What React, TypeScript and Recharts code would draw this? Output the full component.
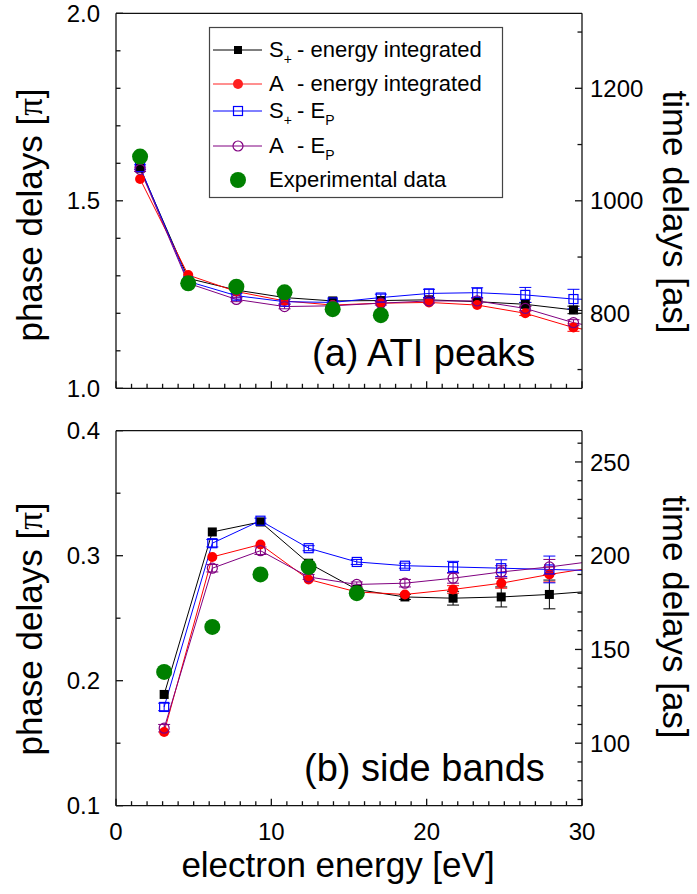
import React from 'react'
import { ComposedChart, Line, Scatter, XAxis, YAxis, ErrorBar } from 'recharts'

const FONT = '"Liberation Sans", Arial, Helvetica, sans-serif'
const INK = '#111'

// energy axis (shared)
const energyTicks = [0, 10, 20, 30]
const energyMinorTicks = [1, 2, 3, 4, 5, 6, 7, 8, 9, 11, 12, 13, 14, 15, 16, 17, 18, 19, 21, 22, 23, 24, 25, 26, 27, 28, 29]

// (a) ATI peaks
const atiEnergy = [1.55, 4.65, 7.75, 10.85, 13.95, 17.05, 20.15, 23.25, 26.35, 29.45, 32.55]
const atiSPlusInt = [1.587, 1.293, 1.262, 1.242, 1.233, 1.234, 1.236, 1.231, 1.224, 1.209, 1.2]
const atiSPlusIntErr = [0, 0, 0, 0, 0, 0, 0, 0, 0.005, 0.01, 0]
const atiAInt = [1.558, 1.302, 1.258, 1.233, 1.222, 1.227, 1.229, 1.222, 1.2, 1.162, 1.14]
const atiAIntErr = [0, 0, 0, 0, 0, 0, 0, 0, 0.006, 0.01, 0]
const atiSPlusEp = [1.59, 1.285, 1.247, 1.231, 1.229, 1.242, 1.253, 1.255, 1.249, 1.238, 1.235]
const atiSPlusEpErr = [0.006, 0.004, 0.006, 0.006, 0.004, 0.009, 0.011, 0.013, 0.02, 0.026, 0]
const atiAEp = [1.584, 1.28, 1.237, 1.218, 1.22, 1.227, 1.233, 1.233, 1.213, 1.175, 1.15]
const atiAEpErr = [0.006, 0.004, 0.006, 0.006, 0.004, 0.005, 0.006, 0.006, 0.006, 0.008, 0]
const atiExpEnergy = [1.55, 4.65, 7.75, 10.85, 13.95, 17.05]
const atiExp = [1.618, 1.28, 1.271, 1.256, 1.211, 1.195]
const atiPhaseTicks = [1.0, 1.5, 2.0]
const atiPhaseMinor = [1.1, 1.2, 1.3, 1.4, 1.6, 1.7, 1.8, 1.9]
const atiTimeTicks = [800, 1000, 1200]
const atiTimeMinor = [700, 900, 1100, 1300]

// (b) side bands
const sbEnergy = [3.1, 6.2, 9.3, 12.4, 15.5, 18.6, 21.7, 24.8, 27.9, 31.0]
const sbSPlusInt = [0.189, 0.319, 0.327, 0.294, 0.273, 0.267, 0.266, 0.267, 0.269, 0.272]
const sbSPlusIntErr = [0, 0, 0, 0, 0, 0.002, 0.0055, 0.008, 0.0115, 0]
const sbAInt = [0.159, 0.299, 0.309, 0.281, 0.271, 0.269, 0.273, 0.278, 0.285, 0.291]
const sbAIntErr = [0, 0, 0, 0, 0, 0, 0.003, 0.004, 0.006, 0]
const sbSPlusEp = [0.179, 0.31, 0.328, 0.306, 0.295, 0.292, 0.291, 0.29, 0.289, 0.288]
const sbSPlusEpErr = [0.003, 0.003, 0.002, 0.002, 0.002, 0.002, 0.0045, 0.0067, 0.0107, 0]
const sbAEp = [0.162, 0.29, 0.304, 0.283, 0.277, 0.278, 0.282, 0.287, 0.291, 0.296]
const sbAEpErr = [0.003, 0.003, 0.003, 0.002, 0.002, 0.003, 0.004, 0.005, 0.006, 0]
const sbExpEnergy = [3.1, 6.2, 9.3, 12.4, 15.5]
const sbExp = [0.207, 0.243, 0.285, 0.291, 0.27]
const sbPhaseTicks = [0.1, 0.2, 0.3, 0.4]
const sbPhaseMinor = [0.15, 0.25, 0.35]
const sbTimeTicks = [100, 150, 200, 250]
const sbTimeMinor = [70, 80, 90, 110, 120, 130, 140, 160, 170, 180, 190, 210, 220, 230, 240, 260]

const toRows = (xs: number[], ys: number[], errs?: number[]) =>
  ys.map((v, i) => ({ e: xs[i], v, err: errs ? errs[i] : 0 }))

// 1 pi of phase = 666.67 as of time delay
const AS_PER_PI = 2000 / 3

const axisLine = { stroke: INK, strokeWidth: 1.3 }
const MAJOR = 7
const MINOR = 4.5

const isMajor = (v: number, majors: number[]) => majors.some((m) => Math.abs(m - v) < 1e-6)

// draws an inward tick mark at the axis line, plus its label for major ticks
function tickRenderer(side: 'left' | 'right' | 'top' | 'bottom', majors: number[], showLabel: boolean, fmt: (v: number) => string) {
  return (p: any) => {
    const v = p.payload.value
    const major = isMajor(v, majors)
    const len = major ? MAJOR : MINOR
    const x = p.x
    const y = p.y
    let line
    let label = null
    if (side === 'left') {
      line = <line x1={x} x2={x + len} y1={y} y2={y} stroke={INK} strokeWidth={1.3} />
      if (major && showLabel)
        label = <text x={x - 16} y={y} dy="0.36em" textAnchor="end" fontSize={24} fill="#000" fontFamily={FONT}>{fmt(v)}</text>
    } else if (side === 'right') {
      line = <line x1={x} x2={x - len} y1={y} y2={y} stroke={INK} strokeWidth={1.3} />
      if (major && showLabel)
        label = <text x={x + 8} y={y} dy="0.36em" textAnchor="start" fontSize={24} fill="#000" fontFamily={FONT}>{fmt(v)}</text>
    } else if (side === 'top') {
      line = <line x1={x} x2={x} y1={y} y2={y + len} stroke={INK} strokeWidth={1.3} />
    } else {
      line = <line x1={x} x2={x} y1={y} y2={y - len} stroke={INK} strokeWidth={1.3} />
      if (major && showLabel)
        label = <text x={x} y={y + 34} textAnchor="middle" fontSize={24} fill="#000" fontFamily={FONT}>{fmt(v)}</text>
    }
    return (
      <g key={`t-${side}-${p.index}`}>
        {line}
        {label}
      </g>
    )
  }
}

function marker(kind: string, color: string, size: number) {
  return (p: any) => {
    const { cx, cy, index, payload } = p
    const key = `m-${kind}-${index}`
    if (cx == null || cy == null || (payload && payload.e > 30)) return <g key={key} />
    const h = size / 2
    if (kind === 'sq') return <rect key={key} x={cx - h} y={cy - h} width={size} height={size} fill={color} />
    if (kind === 'osq')
      return <rect key={key} x={cx - h} y={cy - h} width={size} height={size} fill="#fff" fillOpacity={0} stroke={color} strokeWidth={1.2} />
    if (kind === 'ci') return <circle key={key} cx={cx} cy={cy} r={h} fill={color} />
    return <circle key={key} cx={cx} cy={cy} r={h} fill="#fff" fillOpacity={0} stroke={color} strokeWidth={1.2} />
  }
}

type Series = { rows: any[]; color: string; kind: string; size: number }

function Panel(props: {
  top: number
  height: number
  marginTop: number
  marginBottom: number
  phaseDomain: number[]
  phaseTicks: number[]
  phaseMinor: number[]
  timeTicks: number[]
  timeMinor: number[]
  series: Series[]
  exp: any[]
  showEnergy: boolean
}) {
  const p = props
  const timeDomain = [p.phaseDomain[0] * AS_PER_PI, p.phaseDomain[1] * AS_PER_PI]
  const allEnergy = [...energyTicks, ...energyMinorTicks]
  const shared = { allowDataOverflow: true, interval: 0 as const, tickSize: 0, tickMargin: 0, axisLine, tickLine: false }
  return (
    <div style={{ position: 'absolute', left: 0, top: p.top }}>
      <ComposedChart
        width={697}
        height={p.height}
        margin={{ top: p.marginTop - 1, right: 114, bottom: p.marginBottom - 1, left: 115 }}
      >
        <XAxis
          xAxisId="x"
          type="number"
          dataKey="e"
          domain={[0, 30]}
          ticks={allEnergy}
          height={1}
          tick={tickRenderer('bottom', energyTicks, p.showEnergy, (v) => String(v))}
          {...shared}
        />
        <XAxis
          xAxisId="xt"
          orientation="top"
          type="number"
          domain={[0, 30]}
          ticks={allEnergy}
          height={1}
          tick={tickRenderer('top', energyTicks, false, (v) => String(v))}
          {...shared}
        />
        <YAxis
          yAxisId="y"
          type="number"
          domain={p.phaseDomain}
          ticks={[...p.phaseTicks, ...p.phaseMinor]}
          width={1}
          tick={tickRenderer('left', p.phaseTicks, true, (v) => v.toFixed(1))}
          {...shared}
        />
        <YAxis
          yAxisId="r"
          orientation="right"
          type="number"
          domain={timeDomain}
          ticks={[...p.timeTicks, ...p.timeMinor]}
          width={1}
          tick={tickRenderer('right', p.timeTicks, true, (v) => String(v))}
          {...shared}
        />

        {p.series.map((s, i) => (
          <Line
            key={i}
            xAxisId="x"
            yAxisId="y"
            type="linear"
            data={s.rows}
            dataKey="v"
            stroke={s.color}
            strokeWidth={1}
            dot={marker(s.kind, s.color, s.size)}
            activeDot={false}
            isAnimationActive={false}
          >
            <ErrorBar dataKey="err" width={6} stroke={s.color} strokeWidth={1} direction="y" isAnimationActive={false} />
          </Line>
        ))}
        <Scatter
          xAxisId="x"
          yAxisId="y"
          data={p.exp}
          dataKey="v"
          isAnimationActive={false}
          shape={(q: any) => <circle cx={q.cx} cy={q.cy} r={8} fill="#008000" />}
        />
      </ComposedChart>
    </div>
  )
}

const legendRows = [
  { color: '#000', kind: 'sq', size: 8, y: 50, head: 'S', sub: '+', rest: '- energy integrated', restSub: '' },
  { color: '#ff2020', kind: 'ci', size: 10, y: 84, head: 'A', sub: '', rest: '- energy integrated', restSub: '' },
  { color: '#0000ff', kind: 'osq', size: 9, y: 111, head: 'S', sub: '+', rest: '- E', restSub: 'P' },
  { color: '#800080', kind: 'oci', size: 10, y: 146, head: 'A', sub: '', rest: '- E', restSub: 'P' },
]

function Overlay() {
  return (
    <svg width={697} height={894} style={{ position: 'absolute', left: 0, top: 0, pointerEvents: 'none' }} fontFamily={FONT}>
      {/* legend */}
      <rect x={209.5} y={27.5} width={293} height={170} fill="#fff" stroke="#444" strokeWidth={1.2} />
      {legendRows.map((r, i) => (
        <g key={i}>
          <line x1={213} x2={262} y1={r.y} y2={r.y} stroke={r.color} strokeWidth={1} />
          {marker(r.kind, r.color, r.size)({ cx: 238, cy: r.y, index: i, payload: { e: 0 } })}
          <text x={269} y={r.y + 7} fontSize={22} fill="#000">
            {r.head}
            {r.sub ? (
              <tspan dy={7} fontSize={14}>
                {r.sub}
              </tspan>
            ) : null}
          </text>
          <text x={297} y={r.y + 7} fontSize={22} fill="#000">
            {r.rest}
            {r.restSub ? (
              <tspan dy={7} fontSize={14}>
                {r.restSub}
              </tspan>
            ) : null}
          </text>
        </g>
      ))}
      <circle cx={238} cy={180} r={8} fill="#008000" />
      <text x={269} y={187} fontSize={22} fill="#000">
        Experimental data
      </text>

      {/* panel labels */}
      <text x={312} y={366} fontSize={38} fill="#000">
        (a) ATI peaks
      </text>
      <text x={304} y={781} fontSize={38} fill="#000">
        (b) side bands
      </text>

      {/* axis titles */}
      <text x={42} y={215} fontSize={35} fill="#000" textAnchor="middle" transform="rotate(-90 42 215)">
        phase delays [<tspan fontFamily='"Liberation Serif", serif'>π</tspan>]
      </text>
      <text x={42} y={629} fontSize={35} fill="#000" textAnchor="middle" transform="rotate(-90 42 629)">
        phase delays [<tspan fontFamily='"Liberation Serif", serif'>π</tspan>]
      </text>
      <text x={663} y={212} fontSize={35} fill="#000" textAnchor="middle" transform="rotate(90 663 212)">
        time delays [as]
      </text>
      <text x={663} y={617} fontSize={35} fill="#000" textAnchor="middle" transform="rotate(90 663 617)">
        time delays [as]
      </text>
      <text x={338} y={877} fontSize={35} fill="#000" textAnchor="middle">
        electron energy [eV]
      </text>
    </svg>
  )
}

export default function App() {
  const atiSeries: Series[] = [
    { rows: toRows(atiEnergy, atiSPlusInt, atiSPlusIntErr), color: '#000', kind: 'sq', size: 9 },
    { rows: toRows(atiEnergy, atiAInt, atiAIntErr), color: '#ff0000', kind: 'ci', size: 10 },
    { rows: toRows(atiEnergy, atiSPlusEp, atiSPlusEpErr), color: '#0000ff', kind: 'osq', size: 9 },
    { rows: toRows(atiEnergy, atiAEp, atiAEpErr), color: '#800080', kind: 'oci', size: 10 },
  ]
  const sbSeries: Series[] = [
    { rows: toRows(sbEnergy, sbSPlusInt, sbSPlusIntErr), color: '#000', kind: 'sq', size: 9 },
    { rows: toRows(sbEnergy, sbAInt, sbAIntErr), color: '#ff0000', kind: 'ci', size: 10 },
    { rows: toRows(sbEnergy, sbSPlusEp, sbSPlusEpErr), color: '#0000ff', kind: 'osq', size: 9 },
    { rows: toRows(sbEnergy, sbAEp, sbAEpErr), color: '#800080', kind: 'oci', size: 10 },
  ]
  return (
    <div style={{ position: 'absolute', left: 0, top: 0, width: 697, height: 894, background: '#fff', fontFamily: FONT }}>
      <Panel
        top={0}
        height={420}
        marginTop={13.3}
        marginBottom={31.7}
        phaseDomain={[1, 2]}
        phaseTicks={atiPhaseTicks}
        phaseMinor={atiPhaseMinor}
        timeTicks={atiTimeTicks}
        timeMinor={atiTimeMinor}
        series={atiSeries}
        exp={toRows(atiExpEnergy, atiExp)}
        showEnergy={false}
      />
      <Panel
        top={410}
        height={484}
        marginTop={20.7}
        marginBottom={88.3}
        phaseDomain={[0.1, 0.4]}
        phaseTicks={sbPhaseTicks}
        phaseMinor={sbPhaseMinor}
        timeTicks={sbTimeTicks}
        timeMinor={sbTimeMinor}
        series={sbSeries}
        exp={toRows(sbExpEnergy, sbExp)}
        showEnergy={true}
      />
      <Overlay />
    </div>
  )
}
